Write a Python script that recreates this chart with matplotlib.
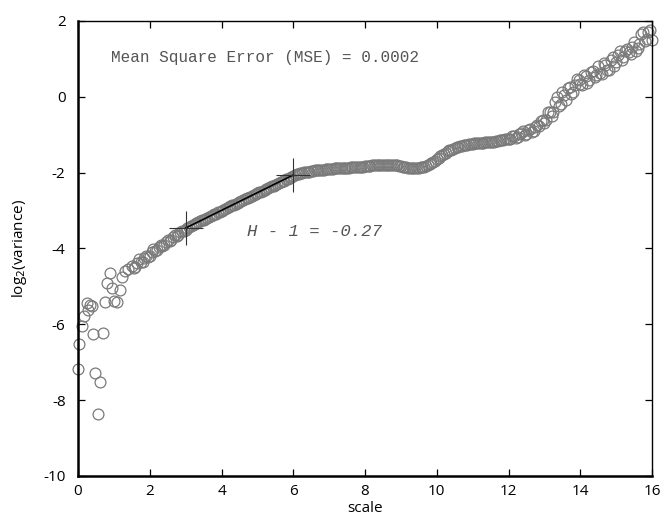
import matplotlib
matplotlib.use("Agg")
import matplotlib.pyplot as plt

# Scattered small-scale points
x_left = [0.00, 0.03, 0.11, 0.17, 0.25, 0.28, 0.33, 0.38, 0.42, 0.47, 0.56, 0.61,
          0.70, 0.75, 0.80, 0.88, 0.95, 1.00, 1.08, 1.17, 1.23, 1.31, 1.40]
y_left = [-7.18, -6.52, -6.05, -5.78, -5.45, -5.62, -5.48, -5.52, -6.26, -7.29, -8.37, -7.52,
          -6.23, -5.41, -4.91, -4.65, -5.04, -5.38, -5.42, -5.10, -4.75, -4.60, -4.55]

# Main curve (scale 1.5 .. 16.0, step 0.1)
x_main = [1.5, 1.6, 1.7, 1.8, 1.9, 2.0, 2.1, 2.2, 2.3, 2.4, 2.5, 2.6, 2.7, 2.8, 2.9, 3.0,
          3.1, 3.2, 3.3, 3.4, 3.5, 3.6, 3.7, 3.8, 3.9, 4.0, 4.1, 4.2, 4.3, 4.4, 4.5, 4.6,
          4.7, 4.8, 4.9, 5.0, 5.1, 5.2, 5.3, 5.4, 5.5, 5.6, 5.7, 5.8, 5.9, 6.0, 6.1, 6.2,
          6.3, 6.4, 6.5, 6.6, 6.7, 6.8, 6.9, 7.0, 7.1, 7.2, 7.3, 7.4, 7.5, 7.6, 7.7, 7.8,
          7.9, 8.0, 8.1, 8.2, 8.3, 8.4, 8.5, 8.6, 8.7, 8.8, 8.9, 9.0, 9.1, 9.2, 9.3, 9.4,
          9.5, 9.6, 9.7, 9.8, 9.9, 10.0, 10.1, 10.2, 10.3, 10.4, 10.5, 10.6, 10.7, 10.8,
          10.9, 11.0, 11.1, 11.2, 11.3, 11.4, 11.5, 11.6, 11.7, 11.8, 11.9, 12.0, 12.1,
          12.2, 12.3, 12.4, 12.5, 12.6, 12.7, 12.8, 12.9, 13.0, 13.1, 13.2, 13.3, 13.4,
          13.5, 13.6, 13.7, 13.8, 13.9, 14.0, 14.1, 14.2, 14.3, 14.4, 14.5, 14.6, 14.7,
          14.8, 14.9, 15.0, 15.1, 15.2, 15.3, 15.4, 15.5, 15.6, 15.7, 15.8, 15.9, 16.0]
y_main = [-4.45, -4.48, -4.29, -4.35, -4.19, -4.20, -4.02, -4.03, -3.90, -3.92, -3.77, -3.77,
          -3.64, -3.64, -3.53, -3.52,
          -3.43, -3.38, -3.33, -3.28, -3.24, -3.19, -3.14, -3.10, -3.05, -3.00, -2.95, -2.91,
          -2.86, -2.82, -2.77, -2.72, -2.68, -2.63, -2.59, -2.54, -2.50, -2.45, -2.41, -2.36,
          -2.32, -2.27, -2.23, -2.18, -2.13, -2.08, -2.04, -2.01, -1.99, -1.97, -1.96, -1.94,
          -1.93, -1.92, -1.91, -1.90, -1.90, -1.89, -1.89, -1.88, -1.87, -1.86, -1.86, -1.85,
          -1.84, -1.83, -1.82, -1.81, -1.80, -1.79, -1.79, -1.79, -1.79, -1.80, -1.81, -1.83,
          -1.85, -1.87, -1.88, -1.88, -1.87, -1.85, -1.82, -1.78, -1.72, -1.65, -1.57, -1.50,
          -1.44, -1.39, -1.35, -1.32, -1.29, -1.27, -1.25, -1.24, -1.23, -1.22, -1.21, -1.20,
          -1.19, -1.18, -1.16, -1.14, -1.12, -1.10,
          -1.03, -1.09, -0.98, -0.91, -0.97, -0.84, -0.90, -0.75, -0.64, -0.68,
          -0.41, -0.51, -0.13, -0.23, 0.14, -0.08, 0.25, 0.12, 0.48, 0.33, 0.57, 0.36,
          0.65, 0.52, 0.81, 0.61, 0.85, 0.70, 1.05, 0.92, 1.22, 1.04, 1.26, 1.14, 1.45,
          1.30, 1.65, 1.47, 1.72, 1.51]

# Intermediate scales (1.55 .. 15.95, step 0.1)
x_mid = [1.55, 1.65, 1.75, 1.85, 1.95, 2.05, 2.15, 2.25, 2.35, 2.45, 2.55, 2.65, 2.75, 2.85,
         2.95, 3.05, 3.15, 3.25, 3.35, 3.45, 3.55, 3.65, 3.75, 3.85, 3.95, 4.05, 4.15, 4.25,
         4.35, 4.45, 4.55, 4.65, 4.75, 4.85, 4.95, 5.05, 5.15, 5.25, 5.35, 5.45, 5.55, 5.65,
         5.75, 5.85, 5.95, 6.05, 6.15, 6.25, 6.35, 6.45, 6.55, 6.65, 6.75, 6.85, 6.95, 7.05,
         7.15, 7.25, 7.35, 7.45, 7.55, 7.65, 7.75, 7.85, 7.95, 8.05, 8.15, 8.25, 8.35, 8.45,
         8.55, 8.65, 8.75, 8.85, 8.95, 9.05, 9.15, 9.25, 9.35, 9.45, 9.55, 9.65, 9.75, 9.85,
         9.95, 10.05, 10.15, 10.25, 10.35, 10.45, 10.55, 10.65, 10.75, 10.85, 10.95, 11.05,
         11.15, 11.25, 11.35, 11.45, 11.55, 11.65, 11.75, 11.85, 11.95, 12.05, 12.15, 12.25,
         12.35, 12.45, 12.55, 12.65, 12.75, 12.85, 12.95, 13.05, 13.15, 13.25, 13.35, 13.45,
         13.55, 13.65, 13.75, 13.85, 13.95, 14.05, 14.15, 14.25, 14.35, 14.45, 14.55, 14.65,
         14.75, 14.85, 14.95, 15.05, 15.15, 15.25, 15.35, 15.45, 15.55, 15.65, 15.75, 15.85,
         15.95]
y_mid = [-4.52, -4.38, -4.36, -4.25, -4.22, -4.10, -4.07, -3.95, -3.93, -3.82, -3.79, -3.69,
         -3.67, -3.57, -3.55, -3.46, -3.41, -3.36, -3.31, -3.26, -3.22, -3.17, -3.12, -3.08,
         -3.03, -2.98, -2.93, -2.89, -2.84, -2.80, -2.75, -2.70, -2.66, -2.61, -2.57, -2.52,
         -2.48, -2.43, -2.39, -2.34, -2.30, -2.25, -2.21, -2.16, -2.11, -2.06, -2.03, -2.00,
         -1.98, -1.97, -1.95, -1.94, -1.93, -1.92, -1.91, -1.90, -1.89, -1.89, -1.88, -1.88,
         -1.87, -1.86, -1.85, -1.85, -1.84, -1.83, -1.82, -1.80, -1.80, -1.79, -1.79, -1.79,
         -1.80, -1.80, -1.82, -1.84, -1.86, -1.88, -1.88, -1.88, -1.86, -1.84, -1.80, -1.75,
         -1.69, -1.61, -1.53, -1.47, -1.41, -1.37, -1.33, -1.30, -1.28, -1.26, -1.24, -1.23,
         -1.22, -1.21, -1.20, -1.20, -1.18, -1.17, -1.15, -1.13, -1.11, -1.12, -1.02, -1.06,
         -0.95, -1.00, -0.87, -0.92, -0.79, -0.78, -0.60, -0.62, -0.39, -0.40, 0.00, -0.20,
         0.05, 0.22, 0.08, 0.30, 0.45, 0.30, 0.55, 0.44, 0.68, 0.58, 0.62, 0.88, 0.72, 0.96,
         0.82, 1.10, 0.98, 1.22, 1.18, 1.32, 1.20, 1.40, 1.70, 1.52, 1.75]

# Fitted line endpoints
fit_x = [3.0, 6.0]
fit_y = [-3.46, -2.06]

mse_text = "Mean Square Error (MSE) = 0.0002"
h_text = "H - 1 = -0.27"

plt.rcParams['font.family'] = ['Open Sans', 'DejaVu Sans']
plt.rcParams['axes.unicode_minus'] = False

fig = plt.figure(figsize=(6.64, 5.21), dpi=100)
ax = fig.add_axes([0.1175, 0.0864, 0.8645, 0.8733])

circ = dict(marker='o', markersize=7.8, markerfacecolor='none',
            markeredgecolor='#7a7a7a', markeredgewidth=0.9, linestyle='none',
            clip_on=False)
ax.plot(x_left, y_left, **circ)
ax.plot(x_main, y_main, **circ)
ax.plot(x_mid, y_mid, **circ)

ax.plot(fit_x, fit_y, color='black', lw=1.2)
ax.plot(fit_x, fit_y, linestyle='none', marker='+', markersize=25,
        markeredgecolor='#333333', markeredgewidth=0.8)

ax.text(0.92, 1.05, mse_text, family='Liberation Mono', fontsize=11.5,
        color='#555555', va='center', ha='left')
ax.text(4.71, -3.55, h_text, family='Liberation Mono', fontsize=12.5, style='italic',
        color='#555555', va='center', ha='left')

ax.set_xlim(0, 16)
ax.set_ylim(-10, 2)
ax.set_xticks(range(0, 17, 2))
ax.set_yticks(range(-10, 3, 2))
ax.tick_params(direction='in', top=True, right=True, length=5, width=0.9,
               labelsize=11)
ax.tick_params(axis='x', pad=6)
ax.tick_params(axis='y', pad=9)
for s in ['left', 'bottom']:
    ax.spines[s].set_linewidth(1.8)
for s in ['top', 'right']:
    ax.spines[s].set_linewidth(1.0)

ax.set_xlabel('scale', fontsize=11, labelpad=1)
ax.set_ylabel(r'log$_2$(variance)', fontsize=11, labelpad=10)

fig.savefig('out.png', dpi=100)
